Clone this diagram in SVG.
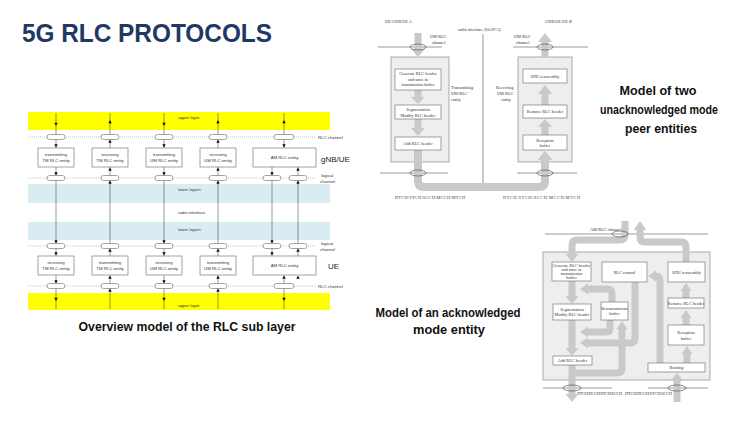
<svg xmlns="http://www.w3.org/2000/svg" width="752" height="423" viewBox="0 0 752 423">
<defs>
<path id="dn" d="M-1.7,-3.2 L1.7,-3.2 L0,0Z" fill="#111"/>
<path id="up" d="M-1.7,3.2 L1.7,3.2 L0,0Z" fill="#111"/>
</defs>
<style>
.t{font-family:"Liberation Sans",Arial,sans-serif;fill:#333}
.s{font-size:4.3px}
.big{font-family:"Liberation Sans",Arial,sans-serif;fill:#1a1a1a;font-size:8px}
.box{fill:#fff;stroke:#666;stroke-width:0.6}
.dot{stroke:#9a9a9a;stroke-width:0.6;stroke-dasharray:1,1}
.vl{stroke:#333;stroke-width:0.5}
.ov{fill:#fff;stroke:#666;stroke-width:0.6}
.sf{font-family:"Liberation Serif","Times New Roman",serif;fill:#333;font-size:4.3px}
.gs{fill:none;stroke:#c9c9c9;stroke-linejoin:round}
.gh{fill:#c9c9c9}
.ob{fill:#eeeeee;stroke:#8c8c8c;stroke-width:0.7}
.ib{fill:#fff;stroke:#666;stroke-width:0.6}
.ln{stroke:#555;stroke-width:0.6;fill:none}
.oo{fill:none;stroke:#444;stroke-width:0.6}
.cap{font-family:"Liberation Sans",Arial,sans-serif;font-weight:bold;fill:#111}
</style>
<rect width="752" height="423" fill="#fff"/>
<text x="22" y="42" font-family="Liberation Sans, Arial, sans-serif" font-size="25" font-weight="bold" fill="#1F3864" textLength="250" lengthAdjust="spacingAndGlyphs">5G RLC PROTOCOLS</text>

<!-- ===== Left: overview model ===== -->
<g id="layers">
<rect x="28" y="112" width="302" height="18" fill="#ffff00"/>
<rect x="28" y="184" width="302" height="19" fill="#d8ecf2"/>
<rect x="28" y="222" width="302" height="18" fill="#d8ecf2"/>
<rect x="28" y="293" width="302" height="17" fill="#ffff00"/>
<text class="t s" x="178" y="119">upper layer</text>
<text class="t s" x="178" y="191">lower layers</text>
<text class="t s" x="178" y="214">radio interface</text>
<text class="t s" x="178" y="231">lower layers</text>
<text class="t s" x="178" y="307">upper layer</text>
<line class="dot" x1="28" y1="137" x2="316" y2="137"/>
<line class="dot" x1="28" y1="178" x2="316" y2="178"/>
<line class="dot" x1="28" y1="246" x2="316" y2="246"/>
<line class="dot" x1="28" y1="286" x2="316" y2="286"/>
<text class="t s" x="318" y="139">RLC channel</text>
<text class="t s" x="321" y="177">logical</text>
<text class="t s" x="320" y="182.5">channel</text>
<text class="t s" x="321" y="245">logical</text>
<text class="t s" x="320" y="250.5">channel</text>
<text class="t s" x="318" y="288">RLC channel</text>
<text class="big" x="321" y="162">gNB/UE</text>
<text class="big" x="328" y="269">UE</text>
</g>

<g id="connectors-overview">
<line class="vl" x1="56" y1="113" x2="56" y2="309"/>
<line class="vl" x1="110" y1="113" x2="110" y2="309"/>
<line class="vl" x1="164" y1="113" x2="164" y2="309"/>
<line class="vl" x1="218" y1="113" x2="218" y2="309"/>
<line class="vl" x1="272" y1="167" x2="272" y2="256"/>
<line class="vl" x1="298" y1="167" x2="298" y2="256"/>
<line class="vl" x1="284" y1="113" x2="284" y2="148"/>
<line class="vl" x1="284" y1="275" x2="284" y2="309"/>
<use href="#dn" x="56" y="126"/><use href="#dn" x="56" y="147.5"/><use href="#dn" x="56" y="175.5"/>
<use href="#dn" x="164" y="126"/><use href="#dn" x="164" y="147.5"/><use href="#dn" x="164" y="175.5"/>
<use href="#dn" x="272" y="175.5"/>
<use href="#up" x="110" y="120"/><use href="#up" x="110" y="139.5"/><use href="#up" x="110" y="167.5"/><use href="#up" x="110" y="180.5"/>
<use href="#up" x="218" y="120"/><use href="#up" x="218" y="139.5"/><use href="#up" x="218" y="167.5"/><use href="#up" x="218" y="180.5"/>
<use href="#up" x="298" y="167.5"/><use href="#up" x="298" y="180.5"/>
<use href="#up" x="284" y="120"/><use href="#dn" x="284" y="147.5"/>
<use href="#dn" x="56" y="243.5"/><use href="#dn" x="56" y="255.5"/><use href="#dn" x="56" y="283.5"/><use href="#dn" x="56" y="301"/>
<use href="#dn" x="164" y="243.5"/><use href="#dn" x="164" y="255.5"/><use href="#dn" x="164" y="283.5"/><use href="#dn" x="164" y="301"/>
<use href="#dn" x="272" y="243.5"/><use href="#dn" x="272" y="255.5"/>
<use href="#up" x="110" y="248.5"/><use href="#up" x="110" y="275.5"/><use href="#up" x="110" y="288.5"/>
<use href="#up" x="218" y="248.5"/><use href="#up" x="218" y="275.5"/><use href="#up" x="218" y="288.5"/>
<use href="#up" x="298" y="248.5"/><use href="#up" x="298" y="275.5"/>
<use href="#up" x="284" y="275.5"/><use href="#dn" x="284" y="301"/>
<rect class="ov" x="47" y="134.5" width="18" height="5" rx="2.5"/>
<rect class="ov" x="101" y="134.5" width="18" height="5" rx="2.5"/>
<rect class="ov" x="155" y="134.5" width="18" height="5" rx="2.5"/>
<rect class="ov" x="209" y="134.5" width="18" height="5" rx="2.5"/>
<rect class="ov" x="274" y="134.5" width="20" height="5" rx="2.5"/>
<rect class="ov" x="47" y="175.5" width="18" height="5" rx="2.5"/>
<rect class="ov" x="101" y="175.5" width="18" height="5" rx="2.5"/>
<rect class="ov" x="155" y="175.5" width="18" height="5" rx="2.5"/>
<rect class="ov" x="209" y="175.5" width="18" height="5" rx="2.5"/>
<rect class="ov" x="263" y="175.5" width="18" height="5" rx="2.5"/>
<rect class="ov" x="289" y="175.5" width="18" height="5" rx="2.5"/>
<rect class="ov" x="47" y="243.5" width="18" height="5" rx="2.5"/>
<rect class="ov" x="101" y="243.5" width="18" height="5" rx="2.5"/>
<rect class="ov" x="155" y="243.5" width="18" height="5" rx="2.5"/>
<rect class="ov" x="209" y="243.5" width="18" height="5" rx="2.5"/>
<rect class="ov" x="263" y="243.5" width="18" height="5" rx="2.5"/>
<rect class="ov" x="289" y="243.5" width="18" height="5" rx="2.5"/>
<rect class="ov" x="47" y="283.5" width="18" height="5" rx="2.5"/>
<rect class="ov" x="101" y="283.5" width="18" height="5" rx="2.5"/>
<rect class="ov" x="155" y="283.5" width="18" height="5" rx="2.5"/>
<rect class="ov" x="209" y="283.5" width="18" height="5" rx="2.5"/>
<rect class="ov" x="274" y="283.5" width="20" height="5" rx="2.5"/>
</g>

<g id="gnb-tx-tm"><rect class="box" x="38" y="148" width="36" height="19"/><text class="t s" text-anchor="middle" x="56" y="156">transmitting</text><text class="t s" text-anchor="middle" x="56" y="162">TM RLC entity</text></g>
<g id="gnb-rx-tm"><rect class="box" x="92" y="148" width="36" height="19"/><text class="t s" text-anchor="middle" x="110" y="156">receiving</text><text class="t s" text-anchor="middle" x="110" y="162">TM RLC entity</text></g>
<g id="gnb-tx-um"><rect class="box" x="146" y="148" width="36" height="19"/><text class="t s" text-anchor="middle" x="164" y="156">transmitting</text><text class="t s" text-anchor="middle" x="164" y="162">UM RLC entity</text></g>
<g id="gnb-rx-um"><rect class="box" x="200" y="148" width="36" height="19"/><text class="t s" text-anchor="middle" x="218" y="156">receiving</text><text class="t s" text-anchor="middle" x="218" y="162">UM RLC entity</text></g>
<g id="gnb-am"><rect class="box" x="253" y="148" width="63" height="19"/><text class="t s" text-anchor="middle" x="284.5" y="159">AM RLC entity</text></g>
<g id="ue-rx-tm"><rect class="box" x="38" y="256" width="36" height="19"/><text class="t s" text-anchor="middle" x="56" y="264">receiving</text><text class="t s" text-anchor="middle" x="56" y="270">TM RLC entity</text></g>
<g id="ue-tx-tm"><rect class="box" x="92" y="256" width="36" height="19"/><text class="t s" text-anchor="middle" x="110" y="264">transmitting</text><text class="t s" text-anchor="middle" x="110" y="270">TM RLC entity</text></g>
<g id="ue-rx-um"><rect class="box" x="146" y="256" width="36" height="19"/><text class="t s" text-anchor="middle" x="164" y="264">receiving</text><text class="t s" text-anchor="middle" x="164" y="270">UM RLC entity</text></g>
<g id="ue-tx-um"><rect class="box" x="200" y="256" width="36" height="19"/><text class="t s" text-anchor="middle" x="218" y="264">transmitting</text><text class="t s" text-anchor="middle" x="218" y="270">UM RLC entity</text></g>
<g id="ue-am"><rect class="box" x="253" y="256" width="63" height="19"/><text class="t s" text-anchor="middle" x="284.5" y="267">AM RLC entity</text></g>

<text class="cap" x="187" y="331" font-size="12" text-anchor="middle" textLength="217" lengthAdjust="spacingAndGlyphs">Overview model of the RLC sub layer</text>

<!-- ===== Top right: UM peer entities ===== -->
<g id="um-frame">
<text class="sf" x="385" y="23">UE/GNB/UE A</text>
<text class="sf" x="545" y="23">GNB/UE/UE B</text>
<text class="sf" x="458" y="31">radio interface (Uu/PC5)</text>
<line class="ln" x1="483" y1="34" x2="483" y2="187"/>
<line class="ln" x1="378" y1="47" x2="442" y2="47"/>
<line class="ln" x1="513" y1="47" x2="588" y2="47"/>
<line class="ln" x1="380" y1="173" x2="448" y2="173"/>
<line class="ln" x1="517" y1="173" x2="577" y2="173"/>
<text class="sf" x="430" y="38">UM-RLC</text>
<text class="sf" x="432" y="43.5">channel</text>
<text class="sf" x="514" y="38">UM-RLC</text>
<text class="sf" x="516" y="43.5">channel</text>
<text class="sf" x="451" y="89">Transmitting</text>
<text class="sf" x="451" y="95">UM-RLC</text>
<text class="sf" x="451" y="101">entity</text>
<text class="sf" x="496" y="89">Receiving</text>
<text class="sf" x="497" y="95">UM-RLC</text>
<text class="sf" x="501" y="101">entity</text>
<text class="sf" x="395" y="199" textLength="70">DTCH/STCH/SCCH/MCCH/MTCH</text>
<text class="sf" x="503" y="199" textLength="77">DTCH/STCH/SCCH/MCCH/MTCH</text>
</g>
<g id="um-tx-entity"><rect class="ob" x="391" y="57" width="58" height="105"/></g>
<g id="um-rx-entity"><rect class="ob" x="518" y="57" width="54" height="105"/></g>
<g id="um-flows">
<path class="gs" stroke-width="7" d="M418 33 V50"/><polygon class="gh" points="411,49 425,49 418,57"/>
<path class="gs" stroke-width="7" d="M418 90 V98"/><polygon class="gh" points="411,97 425,97 418,104"/>
<path class="gs" stroke-width="7" d="M418 119 V129"/><polygon class="gh" points="411,128 425,128 418,136"/>
<path class="gs" stroke-width="8" d="M418 150 V181 Q418 187 424 187 H539 Q545 187 545 181 V159"/><polygon class="gh" points="537.5,160 552.5,160 545,151"/>
<path class="gs" stroke-width="7" d="M545 135 V126"/><polygon class="gh" points="538,127 552,127 545,119"/>
<path class="gs" stroke-width="7" d="M545 105 V93"/><polygon class="gh" points="538,94 552,94 545,85"/>
<path class="gs" stroke-width="7" d="M545 57 V41"/><polygon class="gh" points="538,42 552,42 545,33"/>
<ellipse class="oo" cx="418" cy="47" rx="8" ry="3"/>
<ellipse class="oo" cx="545" cy="47" rx="8" ry="3"/>
<ellipse class="oo" cx="418" cy="173" rx="8" ry="3"/>
<ellipse class="oo" cx="545" cy="173" rx="8" ry="3"/>
</g>
<g id="um-generate"><rect class="ib" x="395" y="69" width="46" height="21"/><text class="sf" text-anchor="middle" x="418" y="75">Generate RLC header</text><text class="sf" text-anchor="middle" x="418" y="80.5">and store in</text><text class="sf" text-anchor="middle" x="418" y="86">transmission buffer</text></g>
<g id="um-segment"><rect class="ib" x="395" y="105" width="46" height="14"/><text class="sf" text-anchor="middle" x="418" y="111">Segmentation</text><text class="sf" text-anchor="middle" x="418" y="116.5">Modify RLC header</text></g>
<g id="um-add"><rect class="ib" x="395" y="137" width="46" height="13"/><text class="sf" text-anchor="middle" x="418" y="145">Add RLC header</text></g>
<g id="um-sdu"><rect class="ib" x="523" y="69" width="44" height="14"/><text class="sf" text-anchor="middle" x="545" y="77.5">SDU reassembly</text></g>
<g id="um-remove"><rect class="ib" x="523" y="105" width="44" height="13"/><text class="sf" text-anchor="middle" x="545" y="113">Remove RLC header</text></g>
<g id="um-reception"><rect class="ib" x="523" y="135" width="44" height="15"/><text class="sf" text-anchor="middle" x="545" y="141.5">Reception</text><text class="sf" text-anchor="middle" x="545" y="147">buffer</text></g>

<g class="cap" font-size="12.5" text-anchor="middle">
<text x="658" y="95" textLength="77" lengthAdjust="spacingAndGlyphs">Model of two</text>
<text x="659" y="114" textLength="118" lengthAdjust="spacingAndGlyphs">unacknowledged mode</text>
<text x="661" y="133" textLength="72" lengthAdjust="spacingAndGlyphs">peer entities</text>
<text x="448" y="317" textLength="145" lengthAdjust="spacingAndGlyphs">Model of an acknowledged</text>
<text x="449" y="334" textLength="72" lengthAdjust="spacingAndGlyphs">mode entity</text>
</g>

<!-- ===== Bottom right: AM entity ===== -->
<g id="am-frame">
<text class="sf" x="590" y="231">AM-RLC channel</text>
<line class="ln" x1="545" y1="234" x2="708" y2="234"/>
<line class="ln" x1="543" y1="388" x2="612" y2="388"/>
<line class="ln" x1="648" y1="388" x2="708" y2="388"/>
<text class="sf" x="577" y="394.5" textLength="45">DTCH/DCCH/STCH/SCCH</text>
<text class="sf" x="625" y="394.5" textLength="47">DTCH/DCCH/STCH/SCCH</text>
</g>
<g id="am-entity"><rect class="ob" x="543" y="252" width="167" height="128"/></g>
<g id="am-flows">
<path class="gs" stroke-width="7" d="M625 221 V235 Q625 240 620 240 H577 Q572 240 572 245 V255"/><polygon class="gh" points="565.5,254 578.5,254 572,262"/>
<path class="gs" stroke-width="7" d="M686 262 V247 Q686 242 681 242 H645 Q640 242 640 237 V229"/><polygon class="gh" points="633.5,230 646.5,230 640,221"/>
<path class="gs" stroke-width="7" d="M572 281 V297"/><polygon class="gh" points="565.5,296 578.5,296 572,304"/>
<path class="gs" stroke-width="7" d="M612 302 V294 Q612 289 607 289 H587"/><polygon class="gh" points="588,283.5 588,294.5 580,289"/>
<path class="gs" stroke-width="7" d="M572 320 V349"/><polygon class="gh" points="565.5,348 578.5,348 572,356"/>
<path class="gs" stroke-width="7" d="M610 320 V328 Q610 332 606 332 H587"/><polygon class="gh" points="588,326.5 588,337.5 580,332"/>
<path class="gs" stroke-width="7" d="M635 282 V338 Q635 343 630 343 H587"/><polygon class="gh" points="588,337.5 588,348.5 580,343"/>
<path class="gs" stroke-width="7" d="M572 365 V395"/><polygon class="gh" points="565.5,394 578.5,394 572,402"/>
<path class="gs" stroke-width="7" d="M572 373 H617 Q622 373 622 368 V328"/><polygon class="gh" points="616.5,329 627.5,329 622,321"/>
<path class="gs" stroke-width="7" d="M687 363 V353"/><polygon class="gh" points="681.5,354 692.5,354 687,346"/>
<path class="gs" stroke-width="7" d="M677 402 V380"/><polygon class="gh" points="670.5,381 683.5,381 677,373"/>
<path class="gs" stroke-width="7" d="M660 363 V281 Q660 276 655 276"/><polygon class="gh" points="656,270.5 656,281.5 648,276"/>
<path class="gs" stroke-width="7" d="M686 325 V317"/><polygon class="gh" points="680.5,318 691.5,318 686,310"/>
<path class="gs" stroke-width="7" d="M686 298 V290"/><polygon class="gh" points="680.5,291 691.5,291 686,283"/>
<ellipse class="oo" cx="620" cy="234" rx="8" ry="3"/>
<ellipse class="oo" cx="572" cy="388" rx="9" ry="3"/>
<ellipse class="oo" cx="677" cy="388" rx="9" ry="3"/>
</g>
<g id="am-generate"><rect class="ib" x="552" y="262" width="39" height="19"/><text class="sf" font-size="3.8" text-anchor="middle" x="571.5" y="266.5">Generate RLC header</text><text class="sf" font-size="3.8" text-anchor="middle" x="571.5" y="270.7">and store in</text><text class="sf" font-size="3.8" text-anchor="middle" x="571.5" y="274.9">transmission</text><text class="sf" font-size="3.8" text-anchor="middle" x="571.5" y="279.1">buffer</text></g>
<g id="am-control"><rect class="ib" x="602" y="262" width="45" height="20"/><text class="sf" text-anchor="middle" x="624.5" y="273.5">RLC control</text></g>
<g id="am-sdu"><rect class="ib" x="668" y="262" width="37" height="20"/><text class="sf" text-anchor="middle" x="686.5" y="273.5">SDU reassembly</text></g>
<g id="am-segment"><rect class="ib" x="553" y="304" width="38" height="16"/><text class="sf" text-anchor="middle" x="572" y="310.5">Segmentation</text><text class="sf" text-anchor="middle" x="572" y="316">Modify RLC header</text></g>
<g id="am-retx"><rect class="ib" x="601" y="302" width="27" height="18"/><text class="sf" font-size="3.8" text-anchor="middle" x="614.5" y="309.5">Retransmission</text><text class="sf" text-anchor="middle" x="614.5" y="315">buffer</text></g>
<g id="am-remove"><rect class="ib" x="668" y="298" width="36" height="10"/><text class="sf" font-size="3.8" text-anchor="middle" x="686" y="304.5">Remove RLC header</text></g>
<g id="am-reception"><rect class="ib" x="668" y="325" width="36" height="20"/><text class="sf" text-anchor="middle" x="686" y="334">Reception</text><text class="sf" text-anchor="middle" x="686" y="339.5">buffer</text></g>
<g id="am-add"><rect class="ib" x="553" y="356" width="39" height="9"/><text class="sf" text-anchor="middle" x="572.5" y="362">Add RLC header</text></g>
<g id="am-routing"><rect class="ib" x="648" y="363" width="57" height="9"/><text class="sf" text-anchor="middle" x="676.5" y="369">Routing</text></g>
</svg>
